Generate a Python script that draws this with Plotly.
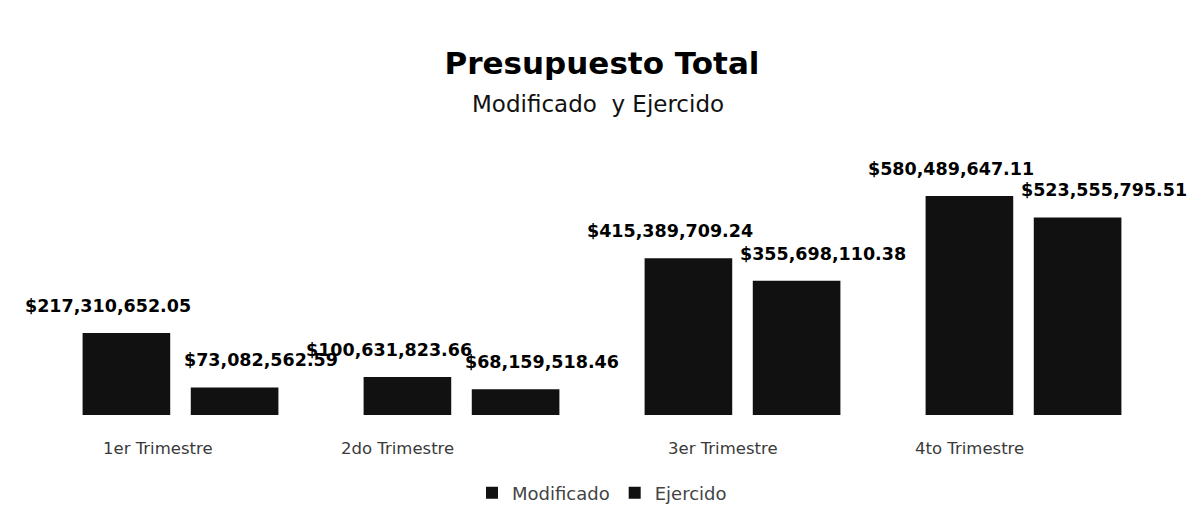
import plotly.graph_objects as go

categories = ["1er Trimestre", "2do Trimestre", "3er Trimestre", "4to Trimestre"]
modificado = [217310652.05, 100631823.66, 415389709.24, 580489647.11]
ejercido = [73082562.59, 68159518.46, 355698110.38, 523555795.51]
series_names = ["Modificado", "Ejercido"]

FONT = "DejaVu Sans"
BAR_COLOR = "#111111"

def money(v):
    return "${:,.2f}".format(v)

fig = go.Figure()
fig.add_trace(go.Bar(x=categories, y=modificado, name=series_names[0],
                     marker=dict(color=BAR_COLOR, line=dict(width=0))))
fig.add_trace(go.Bar(x=categories, y=ejercido, name=series_names[1],
                     marker=dict(color=BAR_COLOR, line=dict(width=0))))

annotations = []
label_shift = [-73, 80]
for vals, sh in zip([modificado, ejercido], label_shift):
    for c, v in zip(categories, vals):
        annotations.append(dict(x=c, y=v, xref="x", yref="y", text="<b>" + money(v) + "</b>",
                                showarrow=False, xshift=sh, yshift=27,
                                yanchor="middle",
                                font=dict(family=FONT, size=17.5, color="#000000")))

tick_label_shift = [-23, -64, -20, -54]
for c, sh in zip(categories, tick_label_shift):
    annotations.append(dict(x=c, y=0, xref="x", yref="y", text=c, showarrow=False,
                            xshift=sh, yshift=-33, yanchor="middle",
                            font=dict(family=FONT, size=16.5, color="#3a3a3a")))

annotations.append(dict(x=0.5, y=(415 - 104) / 234, xref="paper", yref="paper",
                        text="Modificado  y Ejercido", showarrow=False,
                        yanchor="middle", xshift=-4,
                        font=dict(family=FONT, size=23, color="#111111")))

fig.update_layout(
    width=1200, height=521,
    paper_bgcolor="white", plot_bgcolor="white",
    margin=dict(l=40, r=36, t=181, b=106, autoexpand=False),
    title=dict(text="<b>Presupuesto Total</b>", x=0.5, xanchor="center",
               xref="paper", y=1 - 63 / 521, yanchor="middle",
               font=dict(family=FONT, size=31, color="#000000")),
    barmode="group", bargap=0.23, bargroupgap=0.19,
    showlegend=True,
    legend=dict(orientation="h", x=0.5, xanchor="center", y=(415 - 493) / 234,
                yanchor="middle", font=dict(family=FONT, size=18, color="#444444"),
                itemwidth=30, traceorder="normal"),
    xaxis=dict(showticklabels=False, showline=False, showgrid=False, zeroline=False,
               ticks="", automargin=False, range=[-0.5, len(categories) - 0.5]),
    yaxis=dict(range=[0, 620e6], visible=False, showgrid=False, zeroline=False,
               automargin=False),
    annotations=annotations,
)

fig.write_html("out.html", config={"displayModeBar": False},
               post_script="document.body.style.margin='0';document.body.style.overflow='hidden';")
